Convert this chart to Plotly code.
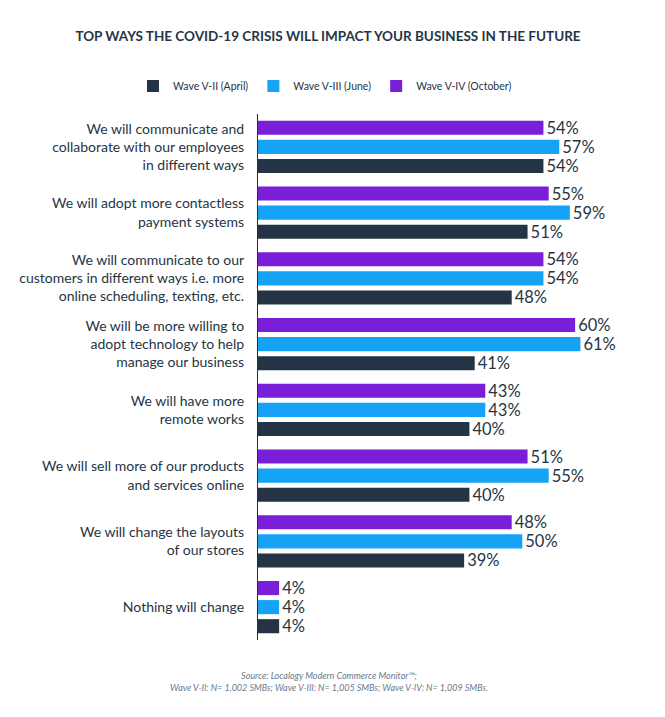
import plotly.graph_objects as go

categories = [
    "We will communicate and<br>collaborate with our employees<br>in different ways",
    "We will adopt more contactless<br>payment systems",
    "We will communicate to our<br>customers in different ways i.e. more<br>online scheduling, texting, etc.",
    "We will be more willing to<br>adopt technology to help<br>manage our business",
    "We will have more<br>remote works",
    "We will sell more of our products<br>and services online",
    "We will change the layouts<br>of our stores",
    "Nothing will change",
]
wave_april = [54, 51, 48, 41, 40, 40, 39, 4]
wave_june = [57, 59, 54, 61, 43, 55, 50, 4]
wave_october = [54, 55, 54, 60, 43, 51, 48, 4]

series = [
    ("Wave V-II (April)", wave_april, "#253444"),
    ("Wave V-III (June)", wave_june, "#16a2f5"),
    ("Wave V-IV (October)", wave_october, "#7a1fd8"),
]

FONT = "Lato"
TEXT = "#263545"
OFF = 8  # page body offset
W, H = 665 - OFF, 717 - OFF
L, R, T, B = 258 - OFF, 37, 114 - OFF, 77
PH = H - T - B
PW = W - L - R

fig = go.Figure()
for name, vals, color in series:
    fig.add_trace(go.Bar(
        y=categories, x=vals, name=name, orientation="h",
        marker=dict(color=color, line=dict(width=0)),
        text=[f"{v}%" for v in vals], textposition="outside",
        constraintext="none",
        textfont=dict(family=FONT, size=16.5, color=TEXT),
        cliponaxis=False,
    ))

fig.update_layout(
    width=W, height=H,
    paper_bgcolor="white", plot_bgcolor="white",
    margin=dict(l=L, r=R, t=T, b=B, autoexpand=False),
    barmode="group", bargap=0.13, bargroupgap=0.26,
    font=dict(family=FONT, color=TEXT),
    title=dict(
        text="<b>TOP WAYS THE COVID-19 CRISIS WILL IMPACT YOUR BUSINESS IN THE FUTURE</b>",
        x=(328 - OFF) / W, xanchor="center", y=1 - (36 - OFF) / H, yanchor="middle",
        font=dict(family=FONT, size=13.5, color=TEXT),
    ),
    legend=dict(
        orientation="h", xref="paper", x=(133 - OFF - L) / PW, xanchor="left",
        y=1 + (T - (86 - OFF)) / PH, yref="paper", yanchor="middle",
        font=dict(family=FONT, size=10.5, color=TEXT),
        itemwidth=30, traceorder="normal",
    ),
    xaxis=dict(range=[0, 70], visible=False, showgrid=False, zeroline=False, fixedrange=True),
    yaxis=dict(
        categoryorder="array", categoryarray=list(reversed(categories)),
        showline=True, linecolor="#2b2b2b", linewidth=1.2,
        showgrid=False, ticks="", ticklabelstandoff=10, automargin=False,
        tickfont=dict(family=FONT, size=14, color=TEXT),
    ),
    annotations=[
        dict(
            text="<i>Source: Localogy Modern Commerce Monitor™;<br>Wave V-II: N= 1,002 SMBs; Wave V-III: N= 1,005 SMBs; Wave V-IV: N= 1,009 SMBs.</i>",
            x=(329 - L - OFF) / PW, xref="paper", xanchor="center",
            y=-(681 - OFF - (H - B)) / PH, yref="paper", yanchor="middle",
            showarrow=False, align="center",
            font=dict(family=FONT, size=9, color="#6b7a8c"),
        )
    ],
    showlegend=True,
)

fig.write_html("out.html")
